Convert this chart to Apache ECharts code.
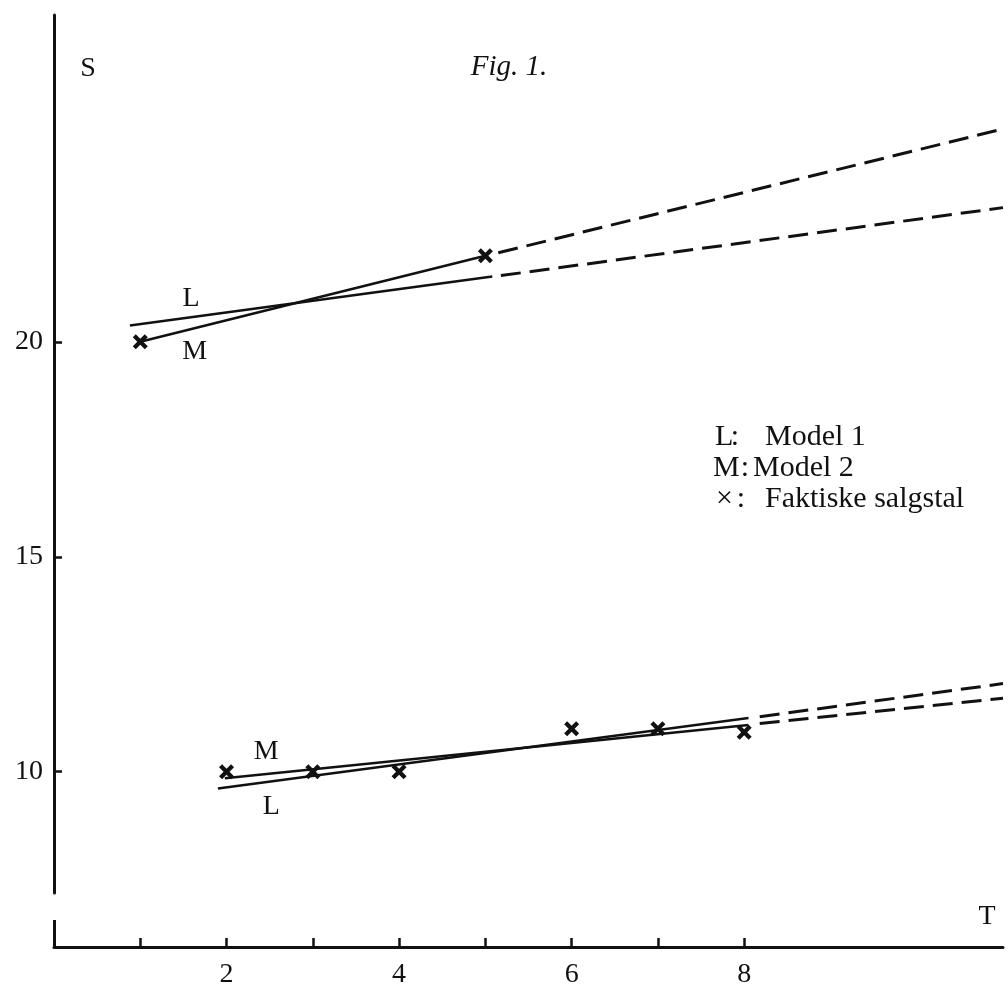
<!DOCTYPE html>
<html>
<head>
<meta charset="utf-8">
<style>
  html, body { margin: 0; padding: 0; background: #fff; }
  #chart { width: 1008px; height: 1001px; }
</style>
<script src="https://cdn.jsdelivr.net/npm/echarts@6/dist/echarts.min.js"></script>
</head>
<body>
<div id="chart"></div>
<script>
// ---------- data ----------
const xTickValues = [1, 2, 3, 4, 5, 6, 7, 8];
const xLabelValues = [2, 4, 6, 8];
const yLabelValues = [10, 15, 20];

// upper product: actual sales (crosses)
const salesA_T = [1, 5];
const salesA_S = [20, 22];
// upper product: Model 1 (L) fitted and projected
const fitL_A_T = [0.88, 5.08];
const fitL_A_S = [20.38, 21.52];
const projL_A_T = [5.18, 11];
const projL_A_S = [21.54, 23.12];
// upper product: Model 2 (M) fitted and projected
const fitM_A_T = [1, 5];
const fitM_A_S = [20, 22];
const projM_A_T = [5.15, 11];
const projM_A_S = [22.07, 24.95];

// lower product: actual sales (crosses)
const salesB_T = [2, 3, 4, 6, 7, 8];
const salesB_S = [10, 10, 10, 11, 11, 10.92];
// lower product: Model 1 (L)
const fitL_B_T = [1.9, 8.05];
const fitL_B_S = [9.61, 11.25];
const projL_B_T = [8.18, 11];
const projL_B_S = [11.28, 12.05];
// lower product: Model 2 (M)
const fitM_B_T = [1.98, 8.05];
const fitM_B_S = [9.85, 11.09];
const projM_B_T = [8.18, 11];
const projM_B_S = [11.12, 11.71];

// curve labels
const curveLabelNames = ['L', 'M', 'M', 'L'];
const curveLabelT = [1.59, 1.63, 2.46, 2.52];
const curveLabelS = [21.01, 19.77, 10.47, 9.19];

// legend text
const legendKeys = ['L', 'M', '\u00d7'];
const legendNames = ['Model 1', 'Model 2', 'Faktiske salgstal'];

// ---------- chart ----------
const FONT = '"Liberation Serif", "Times New Roman", serif';
const INK = '#111';
const pairs = (ts, ss) => ts.map((t, i) => [t, ss[i]]);
const crossPath = 'path://M2,0L5,3L8,0L10,2L7,5L10,8L8,10L5,7L2,10L0,8L3,5L0,2Z';

function solid(name, ts, ss) {
  return {
    name, type: 'line', data: pairs(ts, ss), showSymbol: false, symbol: 'none',
    lineStyle: { color: INK, width: 2.5, type: 'solid' }, silent: true, z: 3
  };
}
function dashed(name, ts, ss) {
  return {
    name, type: 'line', data: pairs(ts, ss), showSymbol: false, symbol: 'none',
    lineStyle: { color: INK, width: 3, type: [20, 9] }, silent: true, z: 3
  };
}
function crosses(name, ts, ss) {
  return {
    name, type: 'scatter', data: pairs(ts, ss), symbol: crossPath, symbolSize: 15,
    itemStyle: { color: INK, opacity: 1 }, silent: true, z: 5
  };
}

const chart = echarts.init(document.getElementById('chart'), null, { renderer: 'canvas' });

const legendGraphics = [];
const legendKeyX = [715, 713, 716];
const legendColonX = [735, 745, 741];
const legendNameX = [765, 753, 765];
const legendY = [437, 468, 499];
const LFONT = '30px ' + FONT;
legendKeys.forEach((k, i) => {
  legendGraphics.push({
    type: 'text', x: legendKeyX[i], y: legendY[i],
    style: { text: k, fill: INK, font: LFONT, textAlign: 'left', textVerticalAlign: 'middle' }
  });
  legendGraphics.push({
    type: 'text', x: legendColonX[i], y: legendY[i],
    style: { text: ':', fill: INK, font: LFONT, textAlign: 'center', textVerticalAlign: 'middle' }
  });
  legendGraphics.push({
    type: 'text', x: legendNameX[i], y: legendY[i],
    style: { text: legendNames[i], fill: INK, font: LFONT, textAlign: 'left', textVerticalAlign: 'middle' }
  });
});

const option = {
  animation: false,
  backgroundColor: '#fff',
  grid: { left: 54, right: 5, top: 15, bottom: 108, containLabel: false, outerBoundsMode: 'none' },
  xAxis: [
    {
      type: 'value', min: 0, max: 11, position: 'bottom', offset: 54,
      axisLine: { show: true, onZero: false, lineStyle: { color: INK, width: 3 } },
      axisTick: { show: true, inside: true, length: 9, customValues: xTickValues, lineStyle: { color: INK, width: 2.5 } },
      axisLabel: { show: true, customValues: xLabelValues, margin: 14, color: INK, fontFamily: FONT, fontSize: 28 },
      splitLine: { show: false }
    },
    {
      type: 'value', min: 0, max: 11, position: 'bottom', offset: 54,
      axisLine: { show: false },
      axisTick: { show: true, inside: true, length: 27, customValues: [0], lineStyle: { color: INK, width: 3 } },
      axisLabel: { show: false },
      splitLine: { show: false }
    }
  ],
  yAxis: {
    type: 'value', min: 7.18, max: 27.6,
    axisLine: { show: true, onZero: false, lineStyle: { color: INK, width: 3 } },
    axisTick: { show: true, inside: true, length: 8, customValues: yLabelValues, lineStyle: { color: INK, width: 2.5 } },
    axisLabel: { show: true, customValues: yLabelValues, margin: 11, color: INK, fontFamily: FONT, fontSize: 28 },
    splitLine: { show: false }
  },
  series: [
    solid('Model 1 (A)', fitL_A_T, fitL_A_S),
    dashed('Model 1 projection (A)', projL_A_T, projL_A_S),
    solid('Model 2 (A)', fitM_A_T, fitM_A_S),
    dashed('Model 2 projection (A)', projM_A_T, projM_A_S),
    solid('Model 1 (B)', fitL_B_T, fitL_B_S),
    dashed('Model 1 projection (B)', projL_B_T, projL_B_S),
    solid('Model 2 (B)', fitM_B_T, fitM_B_S),
    dashed('Model 2 projection (B)', projM_B_T, projM_B_S),
    crosses('Faktiske salgstal (A)', salesA_T, salesA_S),
    crosses('Faktiske salgstal (B)', salesB_T, salesB_S),
    {
      name: 'curve labels', type: 'scatter', symbolSize: 1, silent: true,
      itemStyle: { color: 'transparent', opacity: 1 },
      data: curveLabelT.map((t, i) => ({ value: [t, curveLabelS[i]], name: curveLabelNames[i] })),
      label: { show: true, position: 'inside', formatter: '{b}', color: INK, fontFamily: FONT, fontSize: 28 }
    }
  ],
  graphic: [
    { type: 'text', x: 88, y: 69, style: { text: 'S', fill: INK, font: '28px ' + FONT, textAlign: 'center', textVerticalAlign: 'middle' } },
    { type: 'text', x: 509, y: 67, style: { text: 'Fig. 1.', fill: INK, font: 'italic 29px ' + FONT, textAlign: 'center', textVerticalAlign: 'middle' } },
    { type: 'text', x: 987, y: 917, style: { text: 'T', fill: INK, font: '28px ' + FONT, textAlign: 'center', textVerticalAlign: 'middle' } }
  ].concat(legendGraphics)
};

chart.setOption(option);
</script>
</body>
</html>
